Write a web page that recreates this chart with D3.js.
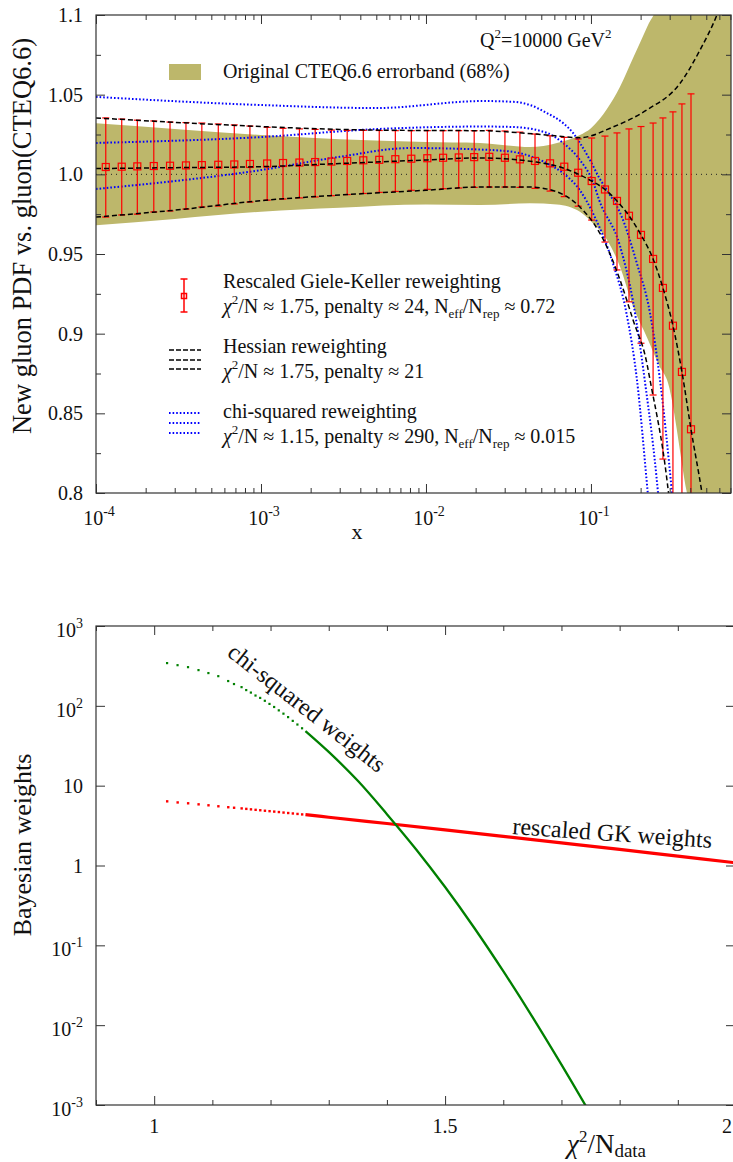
<!DOCTYPE html>
<html><head><meta charset="utf-8">
<script src="https://cdn.jsdelivr.net/npm/d3@7/dist/d3.min.js"></script>
<style>
body{margin:0;background:#fff}
svg{display:block}
text{font-family:"Liberation Serif","Times New Roman",serif;fill:#111}
</style>
</head><body>
<svg id="c" width="733" height="1162"></svg>
<script>
// ---------------- DATA (top panel) ----------------
const bandX     = [1e-4,3e-4,1e-3,3e-3,0.01,0.0212,0.0427,0.0622,0.0857,0.1,0.125,0.15,0.18,0.22,0.262,0.289,0.382,0.5,0.706];
const bandUpper = [1.032,1.0285,1.0247,1.022,1.0203,1.0197,1.0171,1.0197,1.0247,1.029,1.041,1.055,1.073,1.093,1.11,1.13,1.2,1.3,1.4];
const bandLower = [0.968,0.972,0.9765,0.979,0.981,0.9808,0.9818,0.981,0.9765,0.9705,0.959,0.942,0.917,0.897,0.879,0.871,0.8,0.74,0.7];

const gkX = [1.146e-4,1.432e-4,1.78e-4,2.24e-4,2.81e-4,3.51e-4,4.38e-4,5.51e-4,6.89e-4,8.57e-4,1.09e-3,1.36e-3,1.71e-3,2.13e-3,2.67e-3,3.33e-3,4.17e-3,5.21e-3,6.52e-3,8.15e-3,1.019e-2,1.27e-2,1.58e-2,1.96e-2,2.42e-2,3.01e-2,3.71e-2,4.58e-2,5.65e-2,6.89e-2,8.37e-2,0.101,0.1216,0.1438,0.170,0.201,0.238,0.273,0.314,0.356,0.404];
const gkCentral = [1.0046,1.0048,1.0050,1.0052,1.0054,1.0056,1.0058,1.0060,1.0062,1.0065,1.0068,1.0071,1.0074,1.0077,1.0080,1.0084,1.0088,1.0091,1.0095,1.0098,1.0101,1.0104,1.0106,1.0108,1.0110,1.0104,1.0094,1.0084,1.0069,1.0048,1.0010,0.9958,0.9905,0.9833,0.9740,0.9620,0.9469,0.9287,0.9050,0.8760,0.8400];
const gkUpper = [1.0354,1.0347,1.0340,1.0335,1.0328,1.0325,1.0322,1.0316,1.0310,1.0303,1.0295,1.0289,1.0285,1.0282,1.0278,1.0276,1.0276,1.0275,1.0274,1.0274,1.0274,1.0274,1.0274,1.0274,1.0276,1.0272,1.0265,1.0253,1.0242,1.0232,1.0222,1.0228,1.0240,1.0260,1.0285,1.0300,1.0322,1.0354,1.0392,1.0442,1.0505];
const gkLower = [0.9732,0.9745,0.9750,0.9764,0.9770,0.9782,0.9795,0.9801,0.9814,0.9826,0.9838,0.9845,0.9852,0.9858,0.9866,0.9873,0.9880,0.9887,0.9893,0.9900,0.9906,0.9910,0.9914,0.9918,0.9920,0.9920,0.9918,0.9912,0.9895,0.9860,0.9800,0.9713,0.9575,0.9400,0.9200,0.8940,0.8615,0.8213,0.7800,0.7400,0.7000];

const hesCentralX = [1e-4,3e-4,1e-3,3e-3,0.01,0.0212,0.0467,0.0677,0.0857,0.101,0.1216,0.1438,0.170,0.201,0.238,0.273,0.314,0.356,0.404,0.471,0.52];
const hesCentral  = [1.0036,1.0042,1.0048,1.0068,1.0090,1.0103,1.0077,1.0040,0.9996,0.9958,0.9905,0.9833,0.9740,0.9620,0.9469,0.9287,0.9050,0.8760,0.8400,0.8000,0.77];
const hesUpperX = [1e-4,1e-3,3e-3,0.01,0.0212,0.05,0.0857,0.136,0.218,0.346,0.458,0.58,0.706];
const hesUpper  = [1.0354,1.0300,1.0282,1.0275,1.0274,1.0250,1.0230,1.0297,1.0404,1.0570,1.0780,1.1000,1.1250];
const hesLowerX = [1e-4,3e-4,1e-3,3e-3,0.01,0.0212,0.0427,0.0622,0.0857,0.1035,0.125,0.150,0.180,0.218,0.228,0.289,0.31];
const hesLower  = [0.9732,0.9775,0.9835,0.9870,0.9900,0.9920,0.9920,0.9890,0.9795,0.9695,0.9544,0.9337,0.9086,0.8816,0.8710,0.8080,0.78];

const chiUpperX = [1e-4,1e-3,0.005,0.022,0.034,0.0427,0.054,0.0677,0.0778,0.0857,0.0986,0.112,0.125,0.150,0.19,0.228,0.262,0.31,0.33];
const chiUpper  = [1.0486,1.0435,1.0416,1.0460,1.0455,1.0435,1.0385,1.0322,1.0260,1.0197,1.0090,0.9980,0.9900,0.9760,0.9440,0.9130,0.8710,0.8000,0.77];
const chiMidX = [1e-4,1e-3,0.005,0.022,0.034,0.054,0.0677,0.0857,0.1035,0.112,0.15,0.18,0.2117,0.255,0.27];
const chiMid  = [1.0197,1.0234,1.0284,1.0300,1.0297,1.0260,1.0197,1.0090,0.9946,0.9840,0.9550,0.9200,0.8710,0.8000,0.77];
const chiLowX = [1e-4,1e-3,0.003,0.008,0.022,0.034,0.054,0.0677,0.0857,0.1035,0.136,0.164,0.19,0.221,0.235];
const chiLow  = [0.9908,1.0027,1.0110,1.0165,1.0155,1.0140,1.0070,1.0008,0.9900,0.9750,0.9440,0.9130,0.8710,0.8000,0.77];

const topYTicks = [0.8,0.85,0.9,0.95,1.0,1.05,1.1];
const topYTickLabels = ["0.8","0.85","0.9","0.95","1.0","1.05","1.1"];
const topXDecades = [1e-4,1e-3,1e-2,1e-1];
const topXDecadeExp = ["-4","-3","-2","-1"];

// ---------------- DATA (bottom panel) ----------------
const chiDotsT = [1.022,1.040,1.058,1.076,1.093,1.110,1.127,1.137,1.150,1.158,1.166,1.174,1.182,1.19,1.198,1.206,1.214,1.222,1.23,1.238,1.246,1.254];
const chiDotsW = [344,324,306,281,258,236,205,188,172,158,147,135,126,116,106,97,88,80,72.4,65,58.5,52.5];
const chiLineT = [1.26,1.3,1.35,1.4,1.45,1.5,1.55,1.6,1.65,1.7,1.745];
const chiLineW = [48.3,26.5,11.5,4.4,1.6,0.537,0.166,0.0474,0.0127,0.0032,0.00089];
const gkDotsT = [1.022,1.040,1.058,1.076,1.093,1.110,1.127,1.137,1.150,1.158,1.166,1.174,1.182,1.19,1.198,1.206,1.214,1.222,1.23,1.238,1.246,1.254];
const gkDotsW = [6.4,6.2,6.05,5.87,5.71,5.55,5.40,5.32,5.22,5.15,5.08,5.01,4.95,4.88,4.82,4.76,4.70,4.63,4.57,4.51,4.45,4.39];
const gkLineT = [1.26,1.3,1.4,1.5,1.6,1.7,1.8,1.9,2.0];
const gkLineW = [4.34,4.02,3.36,2.80,2.32,1.92,1.59,1.31,1.08];

const botYDecadesExp = [-3,-2,-1,0,1,2,3];
const botXMajor = [1,1.5,2];
const botXMajorLabels = ["1","1.5","2"];

// ---------------- DRAW ----------------
const svg = d3.select("#c");
const FS = 20;

const xT = d3.scaleLog().domain([1e-4, 0.706]).range([96, 731]);
const yT = d3.scaleLinear().domain([0.8, 1.1]).range([493, 15]);
const xB = d3.scaleLinear().domain([0.9, 2.0]).range([96, 736]);
const yB = d3.scaleLog().domain([1e-3, 1e3]).range([1105, 626]);

const defs = svg.append("defs");
defs.append("clipPath").attr("id","clipT").append("rect")
  .attr("x",96).attr("y",15).attr("width",635).attr("height",478);
defs.append("clipPath").attr("id","clipB").append("rect")
  .attr("x",96).attr("y",626).attr("width",640).attr("height",479);

const zip = (xs, ys) => xs.map((x,i)=>[x, ys[i]]);

// ---- TOP PANEL ----
const gT = svg.append("g").attr("clip-path","url(#clipT)");

const area = d3.area().x(d=>xT(d[0])).y0(d=>yT(d[2])).y1(d=>yT(d[1])).curve(d3.curveMonotoneX);
gT.append("path").datum(bandX.map((x,i)=>[x,bandUpper[i],bandLower[i]]))
  .attr("d", area).attr("fill","#bdb76b");

gT.append("line").attr("x1",96).attr("x2",731).attr("y1",yT(1)).attr("y2",yT(1))
  .attr("stroke","#222").attr("stroke-width",1).attr("stroke-dasharray","1,4");

const lineT = d3.line().x(d=>xT(d[0])).y(d=>yT(d[1])).curve(d3.curveMonotoneX);

[[chiUpperX,chiUpper],[chiMidX,chiMid],[chiLowX,chiLow]].forEach(([xs,ys])=>{
  gT.append("path").datum(zip(xs,ys)).attr("d",lineT)
    .attr("fill","none").attr("stroke","#0000ff").attr("stroke-width",2)
    .attr("stroke-dasharray","1.6,2");
});

const gk = gkX.map((x,i)=>({x, c:gkCentral[i], u:gkUpper[i], l:gkLower[i]}));
const eb = gT.append("g").attr("stroke","#ff0000").attr("stroke-width",1.2).attr("fill","none");
gk.forEach(d=>{
  const px = xT(d.x);
  eb.append("line").attr("x1",px).attr("x2",px).attr("y1",yT(d.u)).attr("y2",yT(d.l));
  eb.append("line").attr("x1",px-3.5).attr("x2",px+3.5).attr("y1",yT(d.u)).attr("y2",yT(d.u));
  eb.append("line").attr("x1",px-3.5).attr("x2",px+3.5).attr("y1",yT(d.l)).attr("y2",yT(d.l));
  eb.append("rect").attr("x",px-3.5).attr("y",yT(d.c)-3.5).attr("width",7).attr("height",7);
});

[[hesUpperX,hesUpper],[hesCentralX,hesCentral],[hesLowerX,hesLower]].forEach(([xs,ys])=>{
  gT.append("path").datum(zip(xs,ys)).attr("d",lineT)
    .attr("fill","none").attr("stroke","#000").attr("stroke-width",1.5)
    .attr("stroke-dasharray","5,3");
});

svg.append("rect").attr("x",96).attr("y",15).attr("width",635).attr("height",478)
  .attr("fill","none").attr("stroke","#333").attr("stroke-width",1.2);

const minorX = [];
for (let e=-4; e<=-1; e++) for (let m=2; m<=9; m++){ const v=m*Math.pow(10,e); if (v<0.706) minorX.push(v); }
function tickAxis(axisFn, scale, values, size, tx, ty){
  const ax = axisFn(scale).tickValues(values).tickSize(size).tickFormat("");
  const g = svg.append("g").attr("transform",`translate(${tx},${ty})`).call(ax);
  g.select(".domain").remove();
  g.selectAll(".tick line").attr("stroke","#333").attr("stroke-width",1);
  return g;
}
tickAxis(d3.axisBottom, xT, topXDecades, -9, 0, 493);
tickAxis(d3.axisBottom, xT, minorX, -5, 0, 493);
tickAxis(d3.axisTop, xT, topXDecades, -9, 0, 15);
tickAxis(d3.axisTop, xT, minorX, -5, 0, 15);
const yMinorT = [0.825,0.875,0.925,0.975,1.025,1.075];
tickAxis(d3.axisLeft, yT, topYTicks, -9, 96, 0);
tickAxis(d3.axisLeft, yT, yMinorT, -5, 96, 0);
tickAxis(d3.axisRight, yT, topYTicks, -9, 731, 0);
tickAxis(d3.axisRight, yT, yMinorT, -5, 731, 0);

topYTicks.forEach((v,i)=>{
  svg.append("text").attr("x",83).attr("y",yT(v)).attr("dy","0.35em")
    .attr("text-anchor","end").attr("font-size",FS).text(topYTickLabels[i]);
});
function pow10Label(x, y, exp, anchor){
  const t = svg.append("text").attr("x",x).attr("y",y).attr("font-size",FS).attr("text-anchor",anchor);
  t.append("tspan").text("10");
  t.append("tspan").attr("dy",-9).attr("font-size",14).text(exp);
  return t;
}
topXDecades.forEach((v,i)=>{
  pow10Label(xT(v)+3, 525, topXDecadeExp[i], "middle");
});
svg.append("text").attr("x",357).attr("y",539).attr("font-size",22).attr("text-anchor","middle").text("x");
svg.append("text").attr("transform","translate(31,236) rotate(-90)").attr("font-size",26.5)
  .attr("text-anchor","middle").text("New gluon PDF vs. gluon(CTEQ6.6)");

{
  const q = svg.append("text").attr("x",480).attr("y",47).attr("font-size",FS);
  q.append("tspan").text("Q");
  q.append("tspan").attr("dy",-9).attr("font-size",13).text("2");
  q.append("tspan").attr("dy",9).text("=10000 GeV");
  q.append("tspan").attr("dy",-9).attr("font-size",13).text("2");
}
svg.append("rect").attr("x",169).attr("y",64).attr("width",32).attr("height",16).attr("fill","#bdb76b");
svg.append("text").attr("x",223).attr("y",78).attr("font-size",FS).text("Original CTEQ6.6 errorband (68%)");

{
  const g = svg.append("g").attr("stroke","#ff0000").attr("stroke-width",1.5).attr("fill","none");
  const cx=184;
  g.append("line").attr("x1",cx).attr("x2",cx).attr("y1",279).attr("y2",312);
  g.append("line").attr("x1",cx-3.5).attr("x2",cx+3.5).attr("y1",279).attr("y2",279);
  g.append("line").attr("x1",cx-3.5).attr("x2",cx+3.5).attr("y1",312).attr("y2",312);
  g.append("rect").attr("x",cx-2.5).attr("y",293.5).attr("width",5).attr("height",5);
}
svg.append("text").attr("x",223).attr("y",288).attr("font-size",FS).text("Rescaled Giele-Keller reweighting");
function chiLine(y, parts){
  const t = svg.append("text").attr("x",223).attr("y",y).attr("font-size",FS);
  t.append("tspan").attr("font-style","italic").text("χ");
  t.append("tspan").attr("dy",-9).attr("font-size",13).text("2");
  let first = true;
  parts.forEach(p=>{
    const s = t.append("tspan").text(p[0]);
    let dy = 0;
    if (first) { dy = 9; first=false; }
    if (p[1]==="sub") { s.attr("font-size",13); dy += 5; }
    if (p[1]==="back") { dy -= 5; }
    if (dy) s.attr("dy",dy);
  });
}
chiLine(313, [["/N ≈ 1.75, penalty ≈ 24, N"],["eff","sub"],["/N","back"],["rep","sub"],[" ≈ 0.72","back"]]);
[350,360,369].forEach(y=>{
  svg.append("line").attr("x1",169).attr("x2",201).attr("y1",y).attr("y2",y)
    .attr("stroke","#000").attr("stroke-width",1.5).attr("stroke-dasharray","5,2");
});
svg.append("text").attr("x",223).attr("y",353).attr("font-size",FS).text("Hessian reweighting");
chiLine(378, [["/N ≈ 1.75, penalty ≈ 21"]]);
[413,423,433].forEach(y=>{
  svg.append("line").attr("x1",169).attr("x2",201).attr("y1",y).attr("y2",y)
    .attr("stroke","#0000ff").attr("stroke-width",2).attr("stroke-dasharray","1.6,2");
});
svg.append("text").attr("x",223).attr("y",418).attr("font-size",FS).text("chi-squared reweighting");
chiLine(443, [["/N ≈ 1.15, penalty ≈ 290, N"],["eff","sub"],["/N","back"],["rep","sub"],[" ≈ 0.015","back"]]);

// ---- BOTTOM PANEL ----
const gB = svg.append("g").attr("clip-path","url(#clipB)");
const lineB = d3.line().x(d=>xB(d[0])).y(d=>yB(d[1])).curve(d3.curveCatmullRom);

gB.selectAll(".gd").data(zip(chiDotsT,chiDotsW)).enter().append("rect")
  .attr("x",d=>xB(d[0])-1).attr("y",d=>yB(d[1])-1).attr("width",2.2).attr("height",2.2).attr("fill","#008000");
gB.selectAll(".rd").data(zip(gkDotsT,gkDotsW)).enter().append("rect")
  .attr("x",d=>xB(d[0])-1).attr("y",d=>yB(d[1])-1).attr("width",2.4).attr("height",2.4).attr("fill","#ff0000");
gB.append("path").datum(zip(gkLineT,gkLineW)).attr("d",lineB)
  .attr("fill","none").attr("stroke","#ff0000").attr("stroke-width",3.2);
gB.append("path").datum(zip(chiLineT,chiLineW)).attr("d",lineB)
  .attr("fill","none").attr("stroke","#008000").attr("stroke-width",2.3);

svg.append("rect").attr("x",96).attr("y",626).attr("width",640).attr("height",479)
  .attr("fill","none").attr("stroke","#333").attr("stroke-width",1.2);

const botYT = botYDecadesExp.map(e=>Math.pow(10,e));
tickAxis(d3.axisLeft, yB, botYT, -9, 96, 0);
tickAxis(d3.axisRight, yB, botYT, -9, 735, 0);
const botXMinor = [0.9,1.1,1.2,1.3,1.4,1.6,1.7,1.8,1.9];
tickAxis(d3.axisBottom, xB, botXMajor, -9, 0, 1105);
tickAxis(d3.axisBottom, xB, botXMinor, -5, 0, 1105);
tickAxis(d3.axisTop, xB, botXMajor, -9, 0, 626);
tickAxis(d3.axisTop, xB, botXMinor, -5, 0, 626);

botYDecadesExp.forEach(e=>{
  const y = yB(Math.pow(10,e));
  if (e===0) svg.append("text").attr("x",83).attr("y",y).attr("dy","0.35em").attr("text-anchor","end").attr("font-size",FS).text("1");
  else if (e===1) svg.append("text").attr("x",83).attr("y",y).attr("dy","0.35em").attr("text-anchor","end").attr("font-size",FS).text("10");
  else {
    const t = svg.append("text").attr("x",83).attr("y",y+11).attr("text-anchor","end").attr("font-size",FS);
    t.append("tspan").text("10");
    t.append("tspan").attr("dy",-9).attr("font-size",14).text(String(e));
  }
});
botXMajor.forEach((v,i)=>{
  const px = Math.min(xB(v), 727);
  svg.append("text").attr("x",px).attr("y",1133).attr("text-anchor","middle").attr("font-size",FS).text(botXMajorLabels[i]);
});
svg.append("text").attr("transform","translate(31,845) rotate(-90)").attr("font-size",26)
  .attr("text-anchor","middle").text("Bayesian weights");
{
  const t = svg.append("text").attr("x",567).attr("y",1153).attr("font-size",27);
  t.append("tspan").attr("font-style","italic").text("χ");
  t.append("tspan").attr("dy",-11).attr("font-size",17).text("2");
  t.append("tspan").attr("dy",11).text("/N");
  t.append("tspan").attr("dy",4).attr("font-size",19).text("data");
}
svg.append("text").attr("transform","translate(226,655) rotate(38)").attr("font-size",24).text("chi-squared weights");
svg.append("text").attr("transform","translate(512,834) rotate(4)").attr("font-size",24).text("rescaled GK weights");
</script>
</body></html>
